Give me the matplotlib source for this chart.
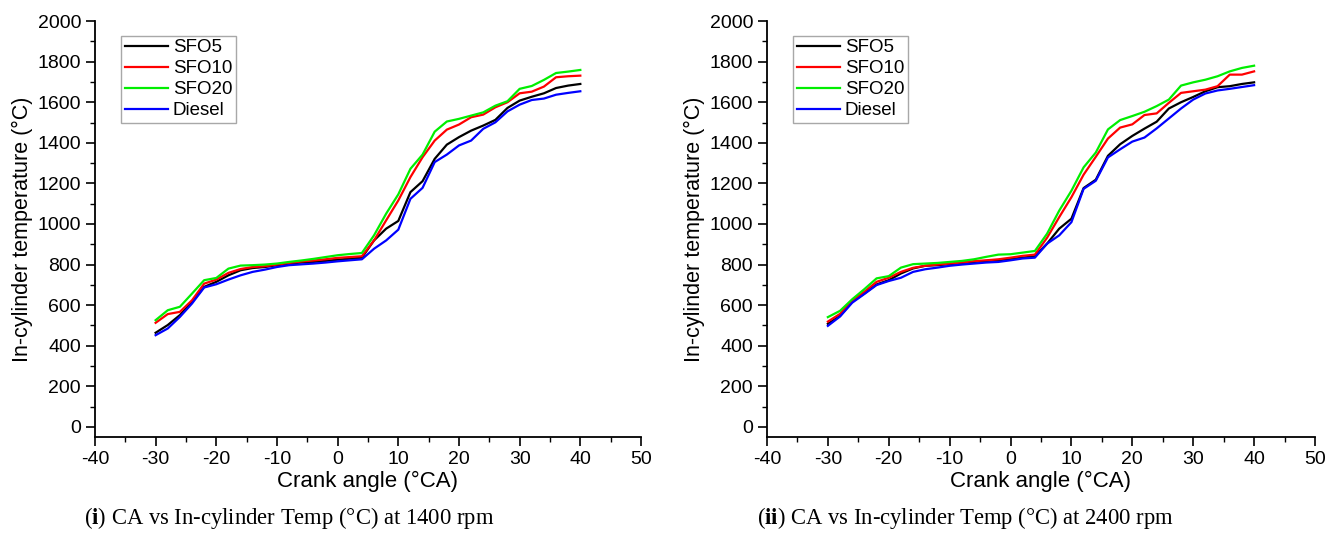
import numpy as np
import matplotlib.pyplot as plt
from matplotlib.ticker import MultipleLocator

plt.rcParams['font.family'] = ['Liberation Sans', 'DejaVu Sans']
plt.rcParams['axes.unicode_minus'] = False
plt.rcParams['mathtext.fontset'] = 'custom'
plt.rcParams['mathtext.rm'] = 'Liberation Serif'
plt.rcParams['mathtext.bf'] = 'Liberation Serif:bold'

# crank angle (deg CA), sampled every 2 degrees
ca = list(range(-30, 41, 2))

# 1400 rpm
sfo5_1400 = [464, 502, 551, 616, 690, 715, 747, 772, 783, 788, 797, 805, 810, 813, 818, 824, 829, 834,
             919, 977, 1015, 1157, 1211, 1321, 1391, 1428, 1460, 1485, 1513, 1572, 1608, 1627, 1644, 1670, 1682, 1690]
sfo10_1400 = [513, 556, 567, 624, 706, 726, 759, 778, 788, 792, 800, 808, 815, 820, 826, 833, 837, 841,
              919, 1018, 1116, 1231, 1329, 1411, 1465, 1490, 1526, 1539, 1575, 1600, 1644, 1652, 1677, 1723, 1728, 1731]
sfo20_1400 = [526, 575, 592, 657, 723, 734, 780, 795, 797, 800, 805, 813, 820, 828, 837, 846, 852, 857,
              944, 1051, 1146, 1272, 1342, 1455, 1505, 1518, 1534, 1550, 1583, 1605, 1666, 1680, 1710, 1744, 1751, 1759]
diesel_1400 = [452, 485, 542, 608, 687, 703, 726, 747, 764, 775, 788, 797, 801, 805, 810, 816, 821, 826,
               878, 919, 972, 1124, 1178, 1305, 1342, 1387, 1411, 1469, 1501, 1555, 1588, 1611, 1618, 1637, 1646, 1654]

# 2400 rpm
sfo5_2400 = [508, 547, 617, 658, 702, 723, 756, 781, 794, 797, 802, 808, 813, 818, 821, 828, 834, 841,
             903, 977, 1026, 1177, 1218, 1336, 1393, 1434, 1470, 1504, 1569, 1600, 1626, 1654, 1674, 1679, 1690, 1698]
sfo10_2400 = [519, 557, 621, 666, 715, 735, 764, 784, 794, 800, 805, 810, 817, 821, 826, 834, 843, 849,
              932, 1034, 1132, 1243, 1331, 1421, 1475, 1491, 1537, 1545, 1597, 1646, 1654, 1662, 1679, 1736, 1736, 1752]
sfo20_2400 = [541, 572, 629, 679, 732, 743, 785, 802, 805, 808, 813, 818, 826, 838, 849, 851, 859, 867,
              952, 1066, 1164, 1279, 1352, 1466, 1512, 1532, 1553, 1581, 1613, 1682, 1698, 1711, 1728, 1752, 1769, 1780]
diesel_2400 = [498, 544, 612, 655, 699, 719, 735, 764, 777, 785, 794, 800, 805, 810, 813, 821, 830, 834,
               903, 944, 1009, 1173, 1213, 1328, 1368, 1406, 1426, 1471, 1520, 1569, 1613, 1643, 1658, 1666, 1675, 1684]

labels = ['SFO5', 'SFO10', 'SFO20', 'Diesel']
colors = ['black', '#ff0000', '#00ee00', '#0000ff']
panels = [
    ([sfo5_1400, sfo10_1400, sfo20_1400, diesel_1400], r'($\mathbf{i}$) CA vs In-cylinder Temp (°C) at 1400 rpm'),
    ([sfo5_2400, sfo10_2400, sfo20_2400, diesel_2400], r'($\mathbf{ii}$) CA vs In-cylinder Temp (°C) at 2400 rpm'),
]
boxes = [[0.0716, 0.180, 0.4118, 0.7805], [0.5784, 0.180, 0.4133, 0.7805]]
caption_x = [0.0633, 0.571]

fig = plt.figure(figsize=(13.26, 5.33), dpi=100)

for (series, caption), box, cx in zip(panels, boxes, caption_x):
    ax = fig.add_axes(box)
    for y, lab, c in zip(series, labels, colors):
        ax.plot(ca, y, color=c, linewidth=1.6, label=lab)
    ax.set_xlim(-40, 50)
    ax.set_ylim(-50, 2000)
    ax.xaxis.set_major_locator(MultipleLocator(10))
    ax.xaxis.set_minor_locator(MultipleLocator(5))
    ax.yaxis.set_major_locator(MultipleLocator(200))
    ax.yaxis.set_minor_locator(MultipleLocator(100))
    ax.spines['top'].set_visible(False)
    ax.spines['right'].set_visible(False)
    for s in ['left', 'bottom']:
        ax.spines[s].set_linewidth(1.3)
    ax.tick_params(which='major', length=6.5, width=1.2, labelsize=14, pad=3.5)
    ax.tick_params(which='minor', length=3.5, width=1.0)
    ax.set_xlabel('Crank angle (°CA)', fontsize=16, labelpad=2)
    ax.set_ylabel('In-cylinder temperature (°C)', fontsize=15.5, labelpad=3)
    leg = ax.legend(loc='upper left', bbox_to_anchor=(0.048, 0.965), fontsize=13.5,
                    handlelength=2.3, handletextpad=0.25, labelspacing=0.2,
                    borderpad=0.2, borderaxespad=0, fancybox=False, framealpha=1)
    leg.get_frame().set_edgecolor('#a8a8a8')
    leg.get_frame().set_linewidth(1.0)
    fig.text(cx, 0.028, caption, ha='left', va='center', fontsize=16.3,
             family=['Liberation Serif', 'DejaVu Serif'])

fig.savefig('out.png', dpi=100)
